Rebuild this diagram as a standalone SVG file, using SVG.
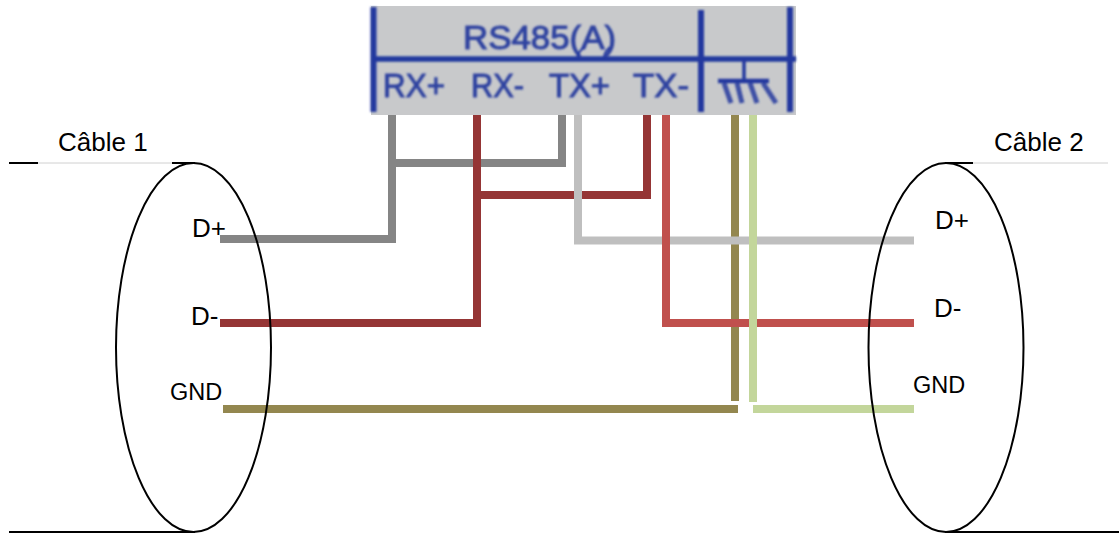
<svg xmlns="http://www.w3.org/2000/svg" width="1119" height="534" viewBox="0 0 1119 534">
<defs><filter id="soft" x="-2%" y="-5%" width="104%" height="110%"><feGaussianBlur stdDeviation="1"/></filter></defs>
<style>
.w{fill:none;stroke-width:8;stroke-linejoin:miter}
.c{fill:none;stroke:#000;stroke-width:2}
.t{font-family:"Liberation Sans",Arial,sans-serif;fill:#000}
.b{fill:none;stroke:#24399f}
.l{font-family:"Liberation Sans",Arial,sans-serif;fill:#2f43a0;font-size:34px;stroke:#2f43a0;stroke-width:1}
</style>
<rect width="1119" height="534" fill="#fff"/>
<g id="rs485">
<rect x="371" y="6" width="425" height="109" fill="#c8c9cb"/>
<g filter="url(#soft)">
<path class="b" stroke-width="6" d="M373.500 7V112M701 10V112M790 7V112"/>
<path class="b" stroke-width="5.500" d="M371 59H796"/>
<text class="l" x="463" y="49" textLength="153" lengthAdjust="spacingAndGlyphs">RS485(A)</text>
<path class="b" stroke-width="2" d="M577 58Q579 50 585 47M604 58Q604 52 610 47"/>
<text class="l" x="383" y="97" textLength="62" lengthAdjust="spacingAndGlyphs">RX+</text>
<text class="l" x="471" y="97" textLength="53" lengthAdjust="spacingAndGlyphs">RX-</text>
<text class="l" x="549" y="97" textLength="61" lengthAdjust="spacingAndGlyphs">TX+</text>
<text class="l" x="633" y="97" textLength="56" lengthAdjust="spacingAndGlyphs">TX-</text>
<path class="b" stroke-width="3.500" d="M744 61V81"/>
<path class="b" stroke-width="4.500" d="M718 81H769"/>
<path class="b" stroke-width="5" opacity=".85" d="M724 83L731 103M737 83L742 103M750 83L757 103M763 83L776 103"/>
</g>
</g>
<g id="connectors">
<path class="w" stroke="#93874f" d="M735 115V401"/>
<path class="w" stroke="#93874f" d="M223 409H738"/>
<path class="w" stroke="#858585" d="M392 115V239H220"/>
<path class="w" stroke="#858585" d="M392 163H562V115"/>
<path class="w" stroke="#953535" d="M477 115V323H220"/>
<path class="w" stroke="#953535" d="M477 195H647V115"/>
<path class="w" stroke="#bfbfbf" d="M578 115V240.500H914"/>
<path class="w" stroke="#c0504d" d="M666 115V323H914"/>
<path class="w" stroke="#c3d69b" d="M753 115V402"/>
<path class="w" stroke="#c3d69b" d="M753 409H914"/>
</g>
<g id="cable1">
<path d="M38 163H172" stroke="#d0d0d0" stroke-width="1" fill="none"/>
<path class="c" d="M9 163H38M172 163H195M9 532H195"/>
<ellipse class="c" cx="193.500" cy="347.500" rx="77.500" ry="184.500"/>
<text class="t" x="58" y="151" font-size="26">Câble 1</text>
<text class="t" x="192" y="237" font-size="26">D+</text>
<text class="t" x="191" y="325" font-size="26">D-</text>
<text class="t" x="170" y="400" font-size="23.500">GND</text>
</g>
<g id="cable2">
<path d="M973 163H1108" stroke="#d0d0d0" stroke-width="1" fill="none"/>
<path class="c" d="M945 163H973M945 532H1119"/>
<ellipse class="c" cx="946" cy="347.500" rx="77.500" ry="184.500"/>
<text class="t" x="994" y="151" font-size="26">Câble 2</text>
<text class="t" x="935" y="229" font-size="26">D+</text>
<text class="t" x="934" y="317" font-size="26">D-</text>
<text class="t" x="913" y="393" font-size="23.500">GND</text>
</g>
</svg>
